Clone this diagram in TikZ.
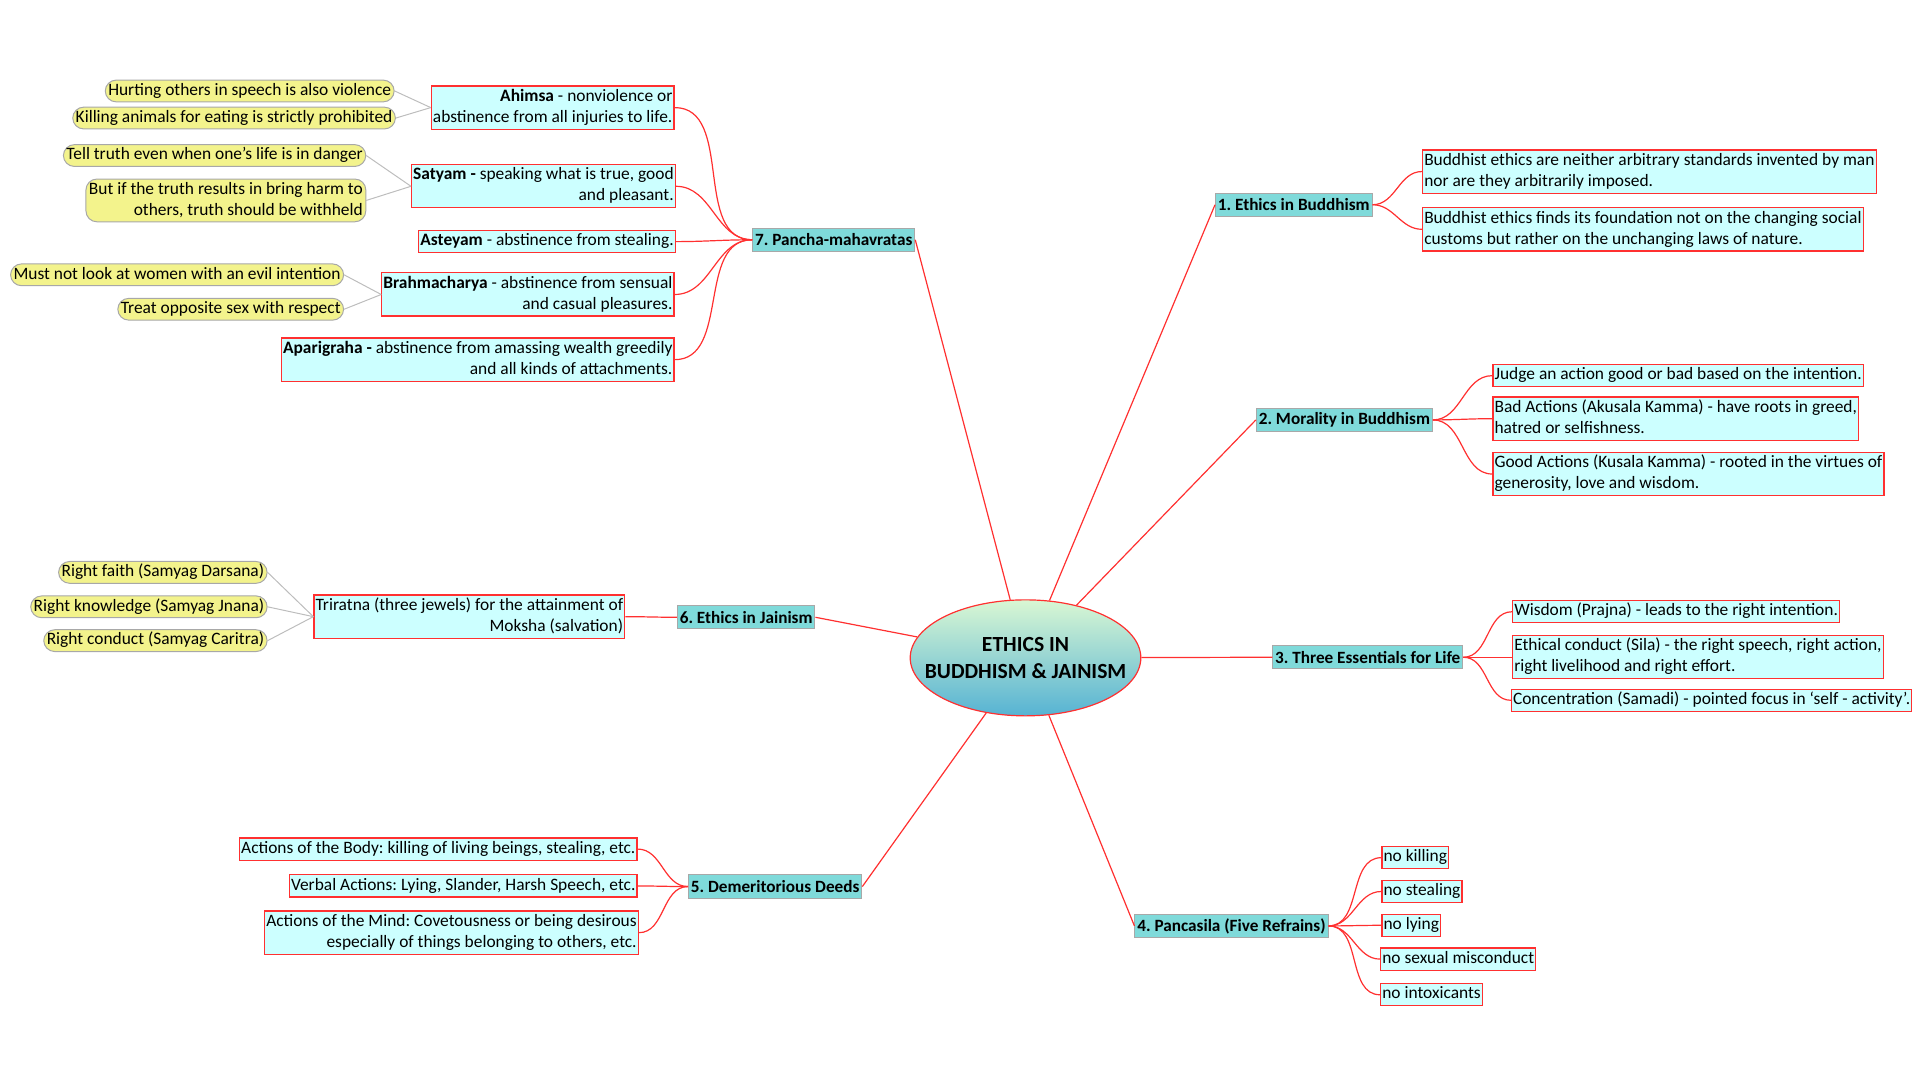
\documentclass[tikz,border=0pt]{standalone}
\usepackage{fontspec}
\setmainfont{Carlito}
\usetikzlibrary{shapes.geometric,shadings}
\definecolor{tealone}{HTML}{7FDADA}
\definecolor{cyantwo}{HTML}{CCFFFF}
\definecolor{yelthree}{HTML}{F3F38C}
\definecolor{redline}{HTML}{FF3030}
\definecolor{grayborder}{HTML}{A8A8A8}
\definecolor{grayline}{HTML}{BDBDBD}
\definecolor{topgreen}{HTML}{D9F7D3}
\definecolor{botblue}{HTML}{56B3D3}
\frenchspacing
\begin{document}
\begin{tikzpicture}[x=0.61667pt,y=-0.61482pt,
  lone/.style={draw=grayborder, fill=tealone, line width=0.5pt,
    font=\fontsize{8.6}{10.5}\selectfont\bfseries, inner xsep=1.2pt, inner ysep=0.4pt, minimum height=11.7pt},
  ltwo/.style={draw=redline, fill=cyantwo, line width=0.6pt,
    font=\fontsize{8.7}{10.5}\selectfont, inner xsep=0.8pt, inner ysep=0.3pt},
  lthree/.style={draw=grayborder, fill=yelthree, line width=0.5pt, rounded corners=5.5pt,
    font=\fontsize{8.7}{10.5}\selectfont, inner xsep=1.5pt, inner ysep=0.2pt},
  cline/.style={draw=redline, line width=0.6pt},
  gline/.style={draw=grayline, line width=0.5pt}
]
\useasboundingbox (0,0) rectangle (1560,881.65);

% centre
\node[ellipse, draw=redline, line width=0.6pt, top color=topgreen, bottom color=botblue,
  minimum width=115.3pt, minimum height=58pt, inner xsep=-10pt, inner ysep=8pt, align=center,
  font=\fontsize{10.8}{13.6}\selectfont\bfseries] (c) at (831.5,535) {ETHICS IN\\BUDDHISM \& JAINISM};

% level one
\node[lone] (n1) at (1049,166.5) {1. Ethics in Buddhism};
\node[lone] (n2) at (1090,341.5) {2. Morality in Buddhism};
\node[lone] (n3) at (1109,534.5) {3. Three Essentials for Life};
\node[lone] (n4) at (998.5,753) {4. Pancasila (Five Refrains)};
\node[lone] (n5) at (628.5,721) {5. Demeritorious Deeds};
\node[lone] (n6) at (605,502) {6. Ethics in Jainism};
\node[lone] (n7) at (676,195) {7. Pancha-mahavratas};

\draw[cline] (c) -- (n1.west);
\draw[cline] (c) -- (n2.west);
\draw[cline] (c) -- (n3.west);
\draw[cline] (c) -- (n4.west);
\draw[cline] (c) -- (n5.east);
\draw[cline] (c) -- (n6.east);
\draw[cline] (c) -- (n7.east);

% level two, right side
\node[ltwo, anchor=west, align=left] (a1) at (1153,139.5) {\strut Buddhist ethics are neither arbitrary standards invented by man\\\strut nor are they arbitrarily imposed.};
\node[ltwo, anchor=west, align=left] (a2) at (1153,186.5) {\strut Buddhist ethics finds its foundation not on the changing social\\\strut customs but rather on the unchanging laws of nature.};

\node[ltwo, anchor=west, align=left] (b1) at (1210,305.5) {\strut Judge an action good or bad based on the intention.};
\node[ltwo, anchor=west, align=left] (b2) at (1210,340.5) {\strut Bad Actions (Akusala Kamma) - have roots in greed,\\\strut hatred or selfishness.};
\node[ltwo, anchor=west, align=left] (b3) at (1210,385.5) {\strut Good Actions (Kusala Kamma) - rooted in the virtues of\\\strut generosity, love and wisdom.};

\node[ltwo, anchor=west, align=left] (d1) at (1226,497.5) {\strut Wisdom (Prajna) - leads to the right intention.};
\node[ltwo, anchor=west, align=left] (d2) at (1226,534.5) {\strut Ethical conduct (Sila) - the right speech, right action,\\\strut right livelihood and right effort.};
\node[ltwo, anchor=west, align=left] (d3) at (1225,569.5) {\strut Concentration (Samadi) - pointed focus in ‘self - activity’.};

\node[ltwo, anchor=west] (p1) at (1120,697.5) {\strut no killing};
\node[ltwo, anchor=west] (p2) at (1120,725) {\strut no stealing};
\node[ltwo, anchor=west] (p3) at (1120,752.5) {\strut no lying};
\node[ltwo, anchor=west] (p4) at (1119,780) {\strut no sexual misconduct};
\node[ltwo, anchor=west] (p5) at (1119,809) {\strut no intoxicants};

% level two, left side
\node[ltwo, anchor=east, align=right] (e1) at (517,690.5) {\strut Actions of the Body: killing of living beings, stealing, etc.};
\node[ltwo, anchor=east, align=right] (e2) at (517,720.5) {\strut Verbal Actions: Lying, Slander, Harsh Speech, etc.};
\node[ltwo, anchor=east, align=right] (e3) at (518,758.5) {\strut Actions of the Mind: Covetousness or being desirous\\\strut especially of things belonging to others, etc.};

\node[ltwo, anchor=east, align=right] (f1) at (507,501.5) {\strut Triratna (three jewels) for the attainment of\\\strut Moksha (salvation)};

\node[ltwo, anchor=east, align=right] (g1) at (547,87.5) {\strut\textbf{Ahimsa} - nonviolence or\\\strut abstinence from all injuries to life.};
\node[ltwo, anchor=east, align=right] (g2) at (548,151.5) {\strut\textbf{Satyam -} speaking what is true, good\\\strut and pleasant.};
\node[ltwo, anchor=east, align=right] (g3) at (548,196.5) {\strut\textbf{Asteyam} - abstinence from stealing.};
\node[ltwo, anchor=east, align=right] (g4) at (547,239.5) {\strut\textbf{Brahmacharya} - abstinence from sensual\\\strut and casual pleasures.};
\node[ltwo, anchor=east, align=right] (g5) at (547,292.5) {\strut\textbf{Aparigraha -} abstinence from amassing wealth greedily\\\strut and all kinds of attachments.};

% level one to two connectors
\foreach \s/\t in {n1/a1,n1/a2,n2/b1,n2/b2,n2/b3,n3/d1,n3/d2,n3/d3,n4/p1,n4/p2,n4/p3,n4/p4,n4/p5}
  \draw[cline] (\s.east) to[out=0,in=180] (\t.west);
\foreach \s/\t in {n5/e1,n5/e2,n5/e3,n6/f1,n7/g1,n7/g2,n7/g3,n7/g4,n7/g5}
  \draw[cline] (\s.west) to[out=180,in=0] (\t.east);

% level three
\node[lthree, anchor=east] (h1) at (320,74) {\strut Hurting others in speech is also violence};
\node[lthree, anchor=east] (h2) at (321,96) {\strut Killing animals for eating is strictly prohibited};
\node[lthree, anchor=east] (h3) at (297,126.5) {\strut Tell truth even when one’s life is in danger};
\node[lthree, anchor=east, align=right] (h4) at (297,163) {\strut But if the truth results in bring harm to\\\strut others, truth should be withheld};
\node[lthree, anchor=east] (h5) at (279,223.5) {\strut Must not look at women with an evil intention};
\node[lthree, anchor=east] (h6) at (279,251.5) {\strut Treat opposite sex with respect};
\node[lthree, anchor=east] (h7) at (217,465.5) {\strut Right faith (Samyag Darsana)};
\node[lthree, anchor=east] (h8) at (217,493.5) {\strut Right knowledge (Samyag Jnana)};
\node[lthree, anchor=east] (h9) at (217,521) {\strut Right conduct (Samyag Caritra)};

\foreach \s/\t in {g1/h1,g1/h2,g2/h3,g2/h4,g4/h5,g4/h6,f1/h7,f1/h8,f1/h9}
  \draw[gline] (\s.west) -- (\t.east);
\end{tikzpicture}
\end{document}
